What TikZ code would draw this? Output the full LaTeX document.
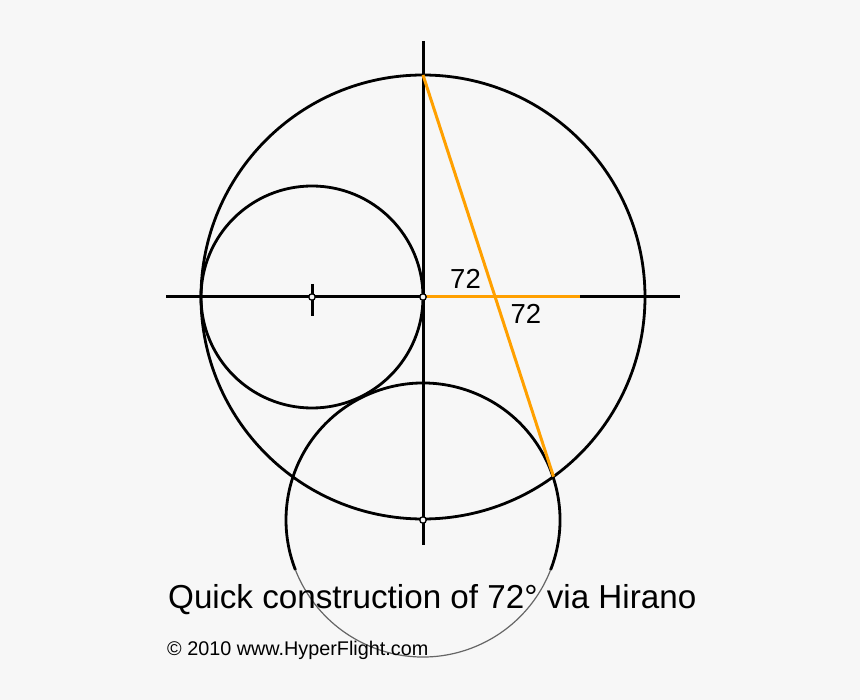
\documentclass[tikz,border=0pt]{standalone}
\usepackage{fontspec}
\setmainfont{Liberation Sans}
\definecolor{bg}{HTML}{F7F7F7}
\definecolor{org}{HTML}{FFA000}
\begin{document}
\begin{tikzpicture}[x=1pt,y=-1pt,
  blk/.style={line width=2.8pt,black},
  orl/.style={line width=3pt,org},
  dotpt/.style={circle,draw=black,fill=bg,line width=1.3pt,inner sep=0pt,minimum size=6.5pt},
  lbl/.style={font=\fontsize{27.5}{30}\selectfont,inner sep=0pt},
  txt/.style={inner sep=0pt,anchor=base west}]
\fill[bg] (0,0) rectangle (860,700);
\useasboundingbox (0,0) rectangle (860,700);
% points
\coordinate (O) at (423,297);
\coordinate (C) at (312,297);
\coordinate (B) at (423,520);
\coordinate (T) at (423,75);
\coordinate (P) at (553.5,476.6);
\coordinate (H) at (580,297);
\coordinate (VT) at (423,41);
\coordinate (VB) at (423,545);
\coordinate (HL) at (166,297);
\coordinate (HR) at (680,297);
\coordinate (KT) at (312,284);
\coordinate (KB) at (312,316);
% axes
\draw[blk,line width=3pt] (VT) -- (VB);
\draw[blk,line width=3pt] (HL) -- (HR);
\draw[blk,line width=3pt] (KT) -- (KB);
% circles
\draw[blk] (O) circle[radius=222];
\draw[blk] (C) circle[radius=111];
\draw[blk] (B) ++(21.4:137) arc[start angle=21.4,end angle=-201.4,radius=137];
\draw[black!60,line width=1.2pt] (B) ++(21.4:137) arc[start angle=21.4,end angle=158.6,radius=137];
% orange construction
\draw[orl] (O) -- (H);
\draw[orl] (T) -- (P);
% points
\node[dotpt] (o) at (O) {};
\node[dotpt] (c) at (C) {};
\node[dotpt] (b) at (B) {};
% labels
\node[lbl] (l1) at (465.5,279) {72};
\node[lbl] (l2) at (525.8,313.5) {72};
\node[txt,font=\fontsize{33.2}{36}\selectfont] (title) at (168,608) {Quick construction of 72° via Hirano};
\node[txt,font=\fontsize{19.8}{22}\selectfont] (copy) at (167,655) {© 2010 www.HyperFlight.com};
\end{tikzpicture}
\end{document}
